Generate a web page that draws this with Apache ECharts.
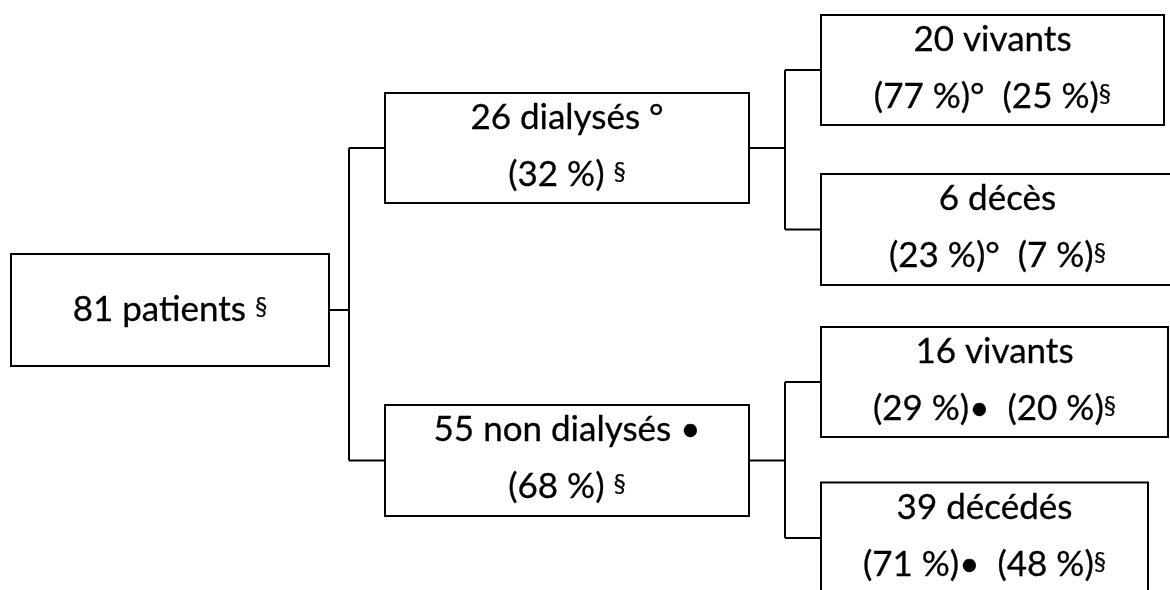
<!DOCTYPE html>
<html><head><meta charset="utf-8">
<script src="https://cdn.jsdelivr.net/npm/echarts@6/dist/echarts.min.js"></script>
<style>html,body{margin:0;padding:0;background:#fff}#c{width:1170px;height:590px}</style>
</head><body><div id="c"></div>
<script>
// ---- data ----
const counts = [81, 26, 55, 20, 6, 16, 39];
const names = ['patients', 'dialysés', 'non dialysés', 'vivants', 'décès', 'vivants', 'décédés'];
const parents = [-1, 0, 0, 1, 1, 2, 2];
const groupMarks = ['§', '°', '•', '', '', '', ''];
const pctOfGroup = [null, null, null, 77, 23, 29, 71];
const pctOfAll = [null, 32, 68, 25, 7, 20, 48];

// ---- layout (axis units) ----
const colLeft = [11, 385, 821];
const colRight = [329, 749];
const leafRight = {3: 1164, 4: 1174, 5: 1168, 6: 1148};
const rowCenter = [310, 148, 460.5, 70, 229.5, 382, 538];
const boxH = [112, 110, 111, 110, 111, 110, 111];
const elbowX = [349, 785];
const FONT = 'Lato, "Open Sans", sans-serif';
const FS = 35, LH = 57, SUP = 25;

function depthOf(i) { let d = 0; while (parents[i] >= 0) { i = parents[i]; d++; } return d; }
function labelOf(i) {
  const d = depthOf(i);
  if (d === 0) return counts[i] + ' ' + names[i] + ' {s|' + groupMarks[i] + '}';
  if (d === 1) return counts[i] + ' ' + names[i] + ' ' + groupMarks[i] + '\n(' + pctOfAll[i] + ' %) {s|' + groupMarks[0] + '}';
  return counts[i] + ' ' + names[i] + '\n(' + pctOfGroup[i] + ' %)' + groupMarks[parents[i]] + '  (' + pctOfAll[i] + ' %){s|' + groupMarks[0] + '}';
}

const chart = echarts.init(document.getElementById('c'));
chart.setOption({
  backgroundColor: '#fff',
  animation: false,
  grid: {left: 0, right: 0, top: 0, bottom: 0},
  xAxis: {type: 'value', min: 0, max: 1170, show: false},
  yAxis: {type: 'value', min: 0, max: 590, inverse: true, show: false},
  series: [{
    type: 'custom',
    coordinateSystem: 'cartesian2d',
    clip: false,
    data: counts.map((c, i) => [i, c]),
    encode: {x: 0, y: 1},
    renderItem: function (params, api) {
      const i = params.dataIndex;
      const d = depthOf(i);
      const left = colLeft[d];
      const right = d < 2 ? colRight[d] : leafRight[i];
      const cy = rowCenter[i];
      const tl = api.coord([left, cy - boxH[i] / 2]);
      const br = api.coord([right, cy + boxH[i] / 2]);
      const children = [];
      children.push({
        type: 'rect',
        shape: {x: tl[0], y: tl[1], width: br[0] - tl[0], height: br[1] - tl[1]},
        style: {fill: '#fff', stroke: '#000', lineWidth: 2}
      });
      const multi = d > 0;
      const tc = api.coord([(left + right) / 2, cy - (multi ? 2 : 0)]);
      children.push({
        type: 'text',
        style: {
          text: labelOf(i), x: tc[0], y: tc[1],
          align: 'center', verticalAlign: 'middle',
          fontFamily: FONT, fontSize: FS, lineHeight: LH, fill: '#000',
          stroke: '#000', lineWidth: 0.3,
          rich: {s: {fontFamily: FONT, fontSize: SUP, lineHeight: LH, fill: '#000', stroke: '#000', lineWidth: 0.2, padding: [0, 0, 6, 0]}}
        }
      });
      const kids = parents.map((p, k) => p === i ? k : -1).filter(k => k >= 0);
      if (kids.length) {
        const ex = elbowX[d];
        const childLeft = colLeft[d + 1];
        const a = api.coord([right, cy]), b = api.coord([ex, cy]);
        children.push({type: 'polyline', shape: {points: [a, b]}, style: {stroke: '#000', lineWidth: 2, fill: null}});
        const top = api.coord([ex, rowCenter[kids[0]]]);
        const bot = api.coord([ex, rowCenter[kids[kids.length - 1]]]);
        children.push({type: 'polyline', shape: {points: [top, bot]}, style: {stroke: '#000', lineWidth: 2, fill: null}});
        kids.forEach(k => {
          children.push({type: 'polyline', shape: {points: [api.coord([ex, rowCenter[k]]), api.coord([childLeft, rowCenter[k]])]}, style: {stroke: '#000', lineWidth: 2, fill: null}});
        });
      }
      return {type: 'group', children: children};
    }
  }]
});
</script>
</body></html>
